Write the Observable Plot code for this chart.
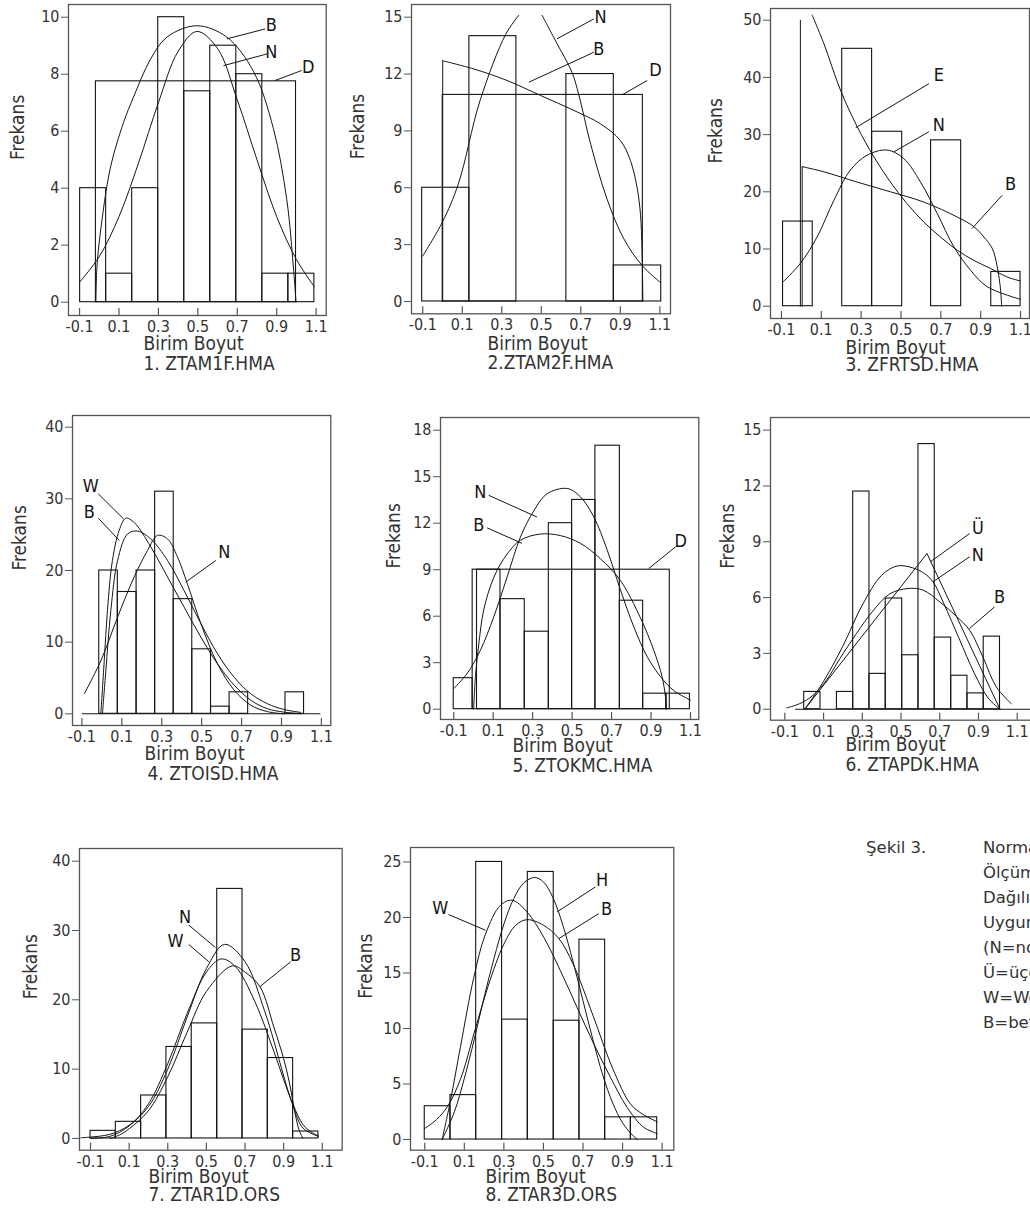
<!DOCTYPE html>
<html><head><meta charset="utf-8">
<script src="https://cdn.jsdelivr.net/npm/d3@7"></script>
<script src="https://cdn.jsdelivr.net/npm/@observablehq/plot@0.6"></script>
<style>
html,body{margin:0;padding:0;background:#fff;overflow:hidden;}
#page{position:relative;width:1030px;height:1209px;overflow:hidden;background:#fff;}
.panel{position:absolute;}
.panel svg{max-width:none !important;overflow:visible;}
.cap{position:absolute;font-family:"DejaVu Sans",sans-serif;font-size:16.5px;color:#333;white-space:nowrap;line-height:25px;}
</style></head><body><div id="page"></div>
<script>
// ---------- shared axis data ----------
const xTicks = [-0.1, 0.1, 0.3, 0.5, 0.7, 0.9, 1.1];
const xTickLabels = ["-0.1", "0.1", "0.3", "0.5", "0.7", "0.9", "1.1"];
const axisLabelX = "Birim Boyut";
const axisLabelY = "Frekans";
const titles = ["1. ZTAM1F.HMA", "2.ZTAM2F.HMA", "3. ZFRTSD.HMA", "4. ZTOISD.HMA", "5. ZTOKMC.HMA", "6. ZTAPDK.HMA", "7. ZTAR1D.ORS", "8. ZTAR3D.ORS"];

// ---------- panel 1 ----------
const p1YTicks = [0, 2, 4, 6, 8, 10];
const p1Edges = [-0.097, 0.035, 0.167, 0.299, 0.431, 0.563, 0.695, 0.827, 0.959, 1.091];
const p1Counts = [4, 1, 4, 10, 7.4, 9, 8, 1, 1];
const p1D = [-0.017, 0.998, 7.75];
const p1N = [[-0.1,0.7],[0,1.6],[0.1,3.0],[0.2,4.9],[0.3,7.0],[0.4,8.8],[0.495,9.5],[0.6,8.9],[0.7,7.1],[0.8,5.0],[0.9,3.0],[1.0,1.5],[1.09,0.55]];
const p1B = [[-0.017,0],[-0.012,1.2],[0.005,2.4],[0.056,4.7],[0.123,6.3],[0.174,7.2],[0.258,8.5],[0.343,9.3],[0.495,9.7],[0.647,9.3],[0.782,8.1],[0.883,6.1],[0.951,3.6],[0.985,1.2],[0.998,0]];
const p1Labels = ["B", "N", "D"];
const p1LabelX = [0.872, 0.872, 1.06];
const p1LabelY = [9.73, 8.77, 8.25];
const p1Leaders = [[0.647,9.24,0.842,9.59],[0.630,8.30,0.85,8.71],[0.892,7.78,1.027,8.13]];

// ---------- panel 2 ----------
const p2YTicks = [0, 3, 6, 9, 12, 15];
const p2Edges = [-0.103, 0.136, 0.374, 0.627, 0.867, 1.107];
const p2Counts = [6, 14, 0, 12, 1.9];
const p2D = [0.001, 1.014, 10.9];
const p2NLeft = [[-0.1,2.4],[0,4.2],[0.08,6.2],[0.19,10.6],[0.32,14.1],[0.386,15.1]];
const p2NRight = [[0.504,15.1],[0.58,13.6],[0.655,12.1],[0.69,10.9],[0.75,8.3],[0.833,5.4],[0.918,3.3],[1.01,1.9],[1.103,1.0]];
const p2BRise = [[0.001,0],[0.001,12.7]];
const p2B = [[0.001,12.7],[0.158,12.27],[0.327,11.66],[0.496,10.87],[0.665,10.08],[0.8,9.37],[0.9,8.5],[0.951,7.44],[0.985,6.0],[1.002,4.6],[1.01,2.7],[1.014,0]];
const p2Labels = ["N", "B", "D"];
const p2LabelX = [0.8, 0.791, 1.078];
const p2LabelY = [15.0, 13.33, 12.19];
const p2Leaders = [[0.58,13.86,0.766,14.91],[0.437,11.57,0.766,13.15],[0.909,10.9,1.036,11.66]];

// ---------- panel 3 ----------
const p3YTicks = [0, 10, 20, 30, 40, 50];
const p3Edges = [-0.092, 0.057, 0.205, 0.355, 0.506, 0.651, 0.802, 0.953, 1.1];
const p3Counts = [14.8, 0, 45, 30.5, 0, 29, 0, 6];
const p3N = [[-0.092,4.25],[-0.005,7.5],[0.079,12.1],[0.163,18.5],[0.246,23.8],[0.33,26.4],[0.43,27.3],[0.514,25.8],[0.598,21.7],[0.682,16.2],[0.765,10.4],[0.849,6.3],[0.933,3.4],[1.1,1.2]];
const p3ESpike = [[-0.005,0],[-0.005,50]];
const p3E = [[0.054,50.9],[0.113,45.9],[0.196,37.8],[0.28,31.4],[0.364,26.1],[0.447,21.7],[0.531,17.9],[0.615,14.7],[0.698,12.1],[0.782,9.8],[0.866,8.0],[0.95,6.6],[1.033,5.1],[1.1,4.4]];
const p3BRise = [[0.004,0],[0.004,24.4]];
const p3B = [[0.004,24.4],[0.113,23.5],[0.28,21.7],[0.447,20.0],[0.615,18.2],[0.782,15.6],[0.866,13.9],[0.916,12.1],[0.958,10.1],[0.983,6.9],[1.0,2.8],[1.005,0]];
const p3Labels = ["E", "N", "B"];
const p3LabelX = [0.69, 0.69, 1.05];
const p3LabelY = [40.4, 31.6, 21.4];
const p3Leaders = [[0.272,31.2,0.64,38.9],[0.464,26.98,0.64,30.5],[0.857,13.6,1.008,19.4]];

// ---------- panel 4 ----------
const p4YTicks = [0, 10, 20, 30, 40];
const p4Edges = [-0.013, 0.080, 0.174, 0.267, 0.360, 0.453, 0.547, 0.640, 0.733, 0.827, 0.920, 1.013];
const p4Counts = [20, 17, 20, 31, 16, 9, 1, 3, 0, 0, 3];
const p4Base = [-0.097, 1.097];
const p4W = [[-0.005,0],[0.012,7.4],[0.028,14.4],[0.053,21.4],[0.087,25.6],[0.12,27.3],[0.162,26.7],[0.245,23.3],[0.329,19.1],[0.412,14.9],[0.496,10.7],[0.579,7.0],[0.663,4.0],[0.746,1.9],[0.83,0.7],[0.913,0.23],[0.996,0]];
const p4B = [[0.003,0],[0.02,6.0],[0.045,14.4],[0.079,21.4],[0.129,25.1],[0.179,25.5],[0.245,24.4],[0.329,21.4],[0.412,17.2],[0.496,12.6],[0.579,8.4],[0.663,5.1],[0.746,2.8],[0.83,1.4],[0.913,0.6],[0.996,0.2]];
const p4N = [[-0.088,2.8],[-0.005,7.4],[0.079,13.5],[0.162,19.1],[0.229,22.8],[0.279,24.9],[0.329,24.4],[0.379,21.9],[0.429,18.1],[0.496,12.6],[0.579,7.0],[0.663,3.3],[0.746,1.2],[0.83,0.3],[0.913,0]];
const p4Labels = ["W", "B", "N"];
const p4LabelX = [-0.055, -0.063, 0.613];
const p4LabelY = [31.7, 28.1, 22.6];
const p4Leaders = [[-0.018,30.7,0.109,27.2],[-0.018,27.3,0.087,24.2],[0.571,21.4,0.421,18.4]];

// ---------- panel 5 ----------
const p5YTicks = [0, 3, 6, 9, 12, 15, 18];
const p5Left = [-0.1, 0.018, 0.137, 0.26, 0.382, 0.5, 0.618, 0.742, 0.86, 0.978];
const p5Right = [-0.004, 0.137, 0.26, 0.382, 0.5, 0.618, 0.742, 0.86, 0.978, 1.097];
const p5Counts = [2, 9, 7.1, 5, 12, 13.5, 17, 7, 1, 1];
const p5D = [-0.004, 0.995, 9];
const p5N = [[-0.1,1.33],[-0.032,2.3],[0.035,3.8],[0.103,5.96],[0.17,8.5],[0.238,11.1],[0.306,12.8],[0.373,13.9],[0.475,14.24],[0.542,13.7],[0.61,12.4],[0.677,10.3],[0.745,7.7],[0.813,5.3],[0.88,3.4],[0.948,2.1],[1.015,1.2],[1.1,0.58]];
const p5B = [[0.001,0],[0.01,2.1],[0.027,4.2],[0.052,6.4],[0.103,8.5],[0.17,10.0],[0.238,10.9],[0.339,11.3],[0.441,11.2],[0.542,10.7],[0.644,9.7],[0.745,8.3],[0.846,5.9],[0.914,3.8],[0.956,2.1],[0.973,0.8],[0.978,0]];
const p5Labels = ["N", "B", "D"];
const p5LabelX = [0.035, 0.027, 1.05];
const p5LabelY = [14.0, 11.87, 10.84];
const p5Leaders = [[0.077,13.8,0.322,12.4],[0.069,11.7,0.246,10.7],[1.024,10.47,0.889,9.08]];

// ---------- panel 6 ----------
const p6YTicks = [0, 3, 6, 9, 12, 15];
const p6Edges = [0.0, 0.084, 0.169, 0.253, 0.337, 0.421, 0.506, 0.59, 0.674, 0.759, 0.843, 0.927, 1.011];
const p6Counts = [0.93, 0, 0.93, 11.7, 1.9, 5.95, 2.9, 14.25, 3.85, 1.8, 0.85, 3.9];
const p6Base = [-0.045, 1.25];
const p6U = [[0.003,0],[0.634,8.37],[1.011,0]];
const p6N = [[0.003,0],[0.1,1.5],[0.2,3.4],[0.3,5.6],[0.4,7.2],[0.48,7.7],[0.56,7.6],[0.62,7.3],[0.665,6.85],[0.72,5.7],[0.8,3.8],[0.88,1.9],[0.95,0.6],[1.011,0]];
const p6B = [[-0.091,0.07],[-0.023,0.3],[0.046,0.75],[0.115,1.56],[0.184,2.72],[0.27,4.07],[0.356,5.3],[0.442,6.2],[0.536,6.49],[0.614,6.4],[0.7,5.77],[0.785,5.0],[0.854,4.25],[0.923,2.8],[0.992,1.2],[1.069,0.3]];
const p6Labels = ["Ü", "N", "B"];
const p6LabelX = [0.897, 0.897, 1.009];
const p6LabelY = [9.71, 8.28, 6.04];
const p6Leaders = [[0.651,7.92,0.854,9.44],[0.665,6.85,0.854,8.19],[0.854,4.34,0.983,5.5]];

// ---------- panel 7 ----------
const p7YTicks = [0, 10, 20, 30, 40];
const p7Edges = [-0.1, 0.031, 0.162, 0.293, 0.424, 0.556, 0.687, 0.818, 0.949, 1.08];
const p7Counts = [1.1, 2.4, 6.2, 13.2, 16.6, 36, 15.7, 11.6, 1.0];
const p7N = [[-0.15,0.1],[-0.1,0.2],[0,0.6],[0.1,1.9],[0.2,4.6],[0.3,10.0],[0.4,17.5],[0.5,24.5],[0.594,28.0],[0.7,25.5],[0.8,18.5],[0.85,14.0],[0.9,9.0],[0.95,4.6],[1.0,1.5],[1.08,0.3]];
const p7W = [[-0.1,0],[0,0.3],[0.1,1.8],[0.2,5.0],[0.3,10.8],[0.4,18.0],[0.5,24.0],[0.577,25.9],[0.65,24.8],[0.75,19.8],[0.85,12.5],[0.9,8.5],[0.95,4.8],[1.0,2.0],[1.05,0.8],[1.08,0.4]];
const p7B = [[0,0],[0.05,0.5],[0.1,1.4],[0.2,4.0],[0.3,8.9],[0.4,15.3],[0.5,21.2],[0.634,24.9],[0.7,24.0],[0.777,21.9],[0.85,16.0],[0.9,11.5],[0.93,8.0],[0.96,3.5],[0.98,1.2],[1.0,0]];
const p7Labels = ["N", "W", "B"];
const p7LabelX = [0.389, 0.34, 0.962];
const p7LabelY = [31.97, 28.4, 26.4];
const p7Leaders = [[0.409,30.77,0.547,27.55],[0.409,27.98,0.513,25.48],[0.936,25.48,0.777,21.9]];

// ---------- panel 8 ----------
const p8YTicks = [0, 5, 10, 15, 20, 25];
const p8Edges = [-0.1, 0.03, 0.16, 0.291, 0.421, 0.552, 0.682, 0.812, 0.942, 1.075];
const p8Counts = [3, 4, 25, 10.8, 24.1, 10.7, 18, 2, 2];
const p8W = [[-0.012,0],[0.03,3.5],[0.08,8.3],[0.148,14.6],[0.207,18.5],[0.283,21.1],[0.342,21.55],[0.417,20.5],[0.502,18.2],[0.586,15.2],[0.67,11.9],[0.755,8.6],[0.839,5.6],[0.923,2.9],[1.007,1.1],[1.075,0.54]];
const p8H = [[-0.012,0],[0.05,2.5],[0.1,5.5],[0.15,9.0],[0.2,12.8],[0.25,16.3],[0.3,19.4],[0.35,21.7],[0.4,23.1],[0.455,23.6],[0.5,23.2],[0.55,21.7],[0.6,19.2],[0.65,16.0],[0.7,12.5],[0.75,9.0],[0.8,5.8],[0.85,3.3],[0.9,1.5],[0.95,0.4],[0.974,0]];
const p8B = [[-0.1,1.0],[-0.04,1.8],[0.016,3.0],[0.08,5.4],[0.15,9.6],[0.22,13.8],[0.3,17.6],[0.36,19.3],[0.417,19.8],[0.5,19.3],[0.578,18.1],[0.65,15.8],[0.75,11.2],[0.85,6.4],[0.94,3.2],[1.0,2.3],[1.075,1.6]];
const p8Labels = ["W", "H", "B"];
const p8LabelX = [-0.021, 0.797, 0.819];
const p8LabelY = [20.8, 23.35, 20.7];
const p8Leaders = [[0.021,20.26,0.207,18.85],[0.763,22.75,0.569,20.5],[0.78,20.35,0.578,18.1]];

// ---------- caption ----------
const captionHead = "Şekil 3.";
const captionLines = ["Normal Olmayan", "Ölçümlerin", "Dağılımlarına", "Uygunluk Testleri", "(N=normal, D=düzgün,", "Ü=üçgen, E=üstel,", "W=Weibull, H=hiperbolik,", "B=beta)"];

// ---------- drawing ----------
const ink = "#141414";
const gray = "#555";
const txt = "#333";
const font = '"DejaVu Sans Condensed", "DejaVu Sans", sans-serif';
const xLabelMap = new Map(xTicks.map((t, i) => [t, xTickLabels[i]]));
const page = document.getElementById("page");

function edgesTo(edges) { return [edges.slice(0, -1), edges.slice(1)]; }

function drawPanel(c) {
  const mL = 72, mR = 12, mT = 10, mB = 72;
  const iw = c.R - c.L, ih = c.B - c.T;
  const bars = c.counts.map((v, i) => ({x1: c.x1[i], x2: c.x2[i], y1: 0, y2: v}));
  const curveRows = [];
  c.curves.forEach(([name, pts]) => pts.forEach(([x, y]) => curveRows.push({x, y, k: name})));
  const linRows = [];
  (c.linear || []).forEach(([name, pts]) => pts.forEach(([x, y]) => linRows.push({x, y, k: name})));
  const labelRows = c.labels.map((t, i) => ({t, x: c.labelX[i], y: c.labelY[i]}));
  const leadRows = c.leaders.map(([x1, y1, x2, y2]) => ({x1, y1, x2, y2}));
  const marks = [
    Plot.frame({stroke: gray, strokeWidth: 1.3}),
    Plot.axisY(c.yTicks, {tickSize: 7, tickPadding: 2, fontSize: 16, fill: txt, stroke: gray, label: null}),
    Plot.axisX(xTicks, {tickSize: 0, tickPadding: 5, fontSize: 16, fill: txt, label: null, tickFormat: d => xLabelMap.get(d)}),
    Plot.tickX(xTicks, {x: d => d, insetTop: ih - 7, stroke: gray, strokeWidth: 1.2})
  ];
  if (c.base) marks.push(Plot.ruleY([{y: 0, x1: c.base[0], x2: c.base[1]}], {y: "y", x1: "x1", x2: "x2", stroke: ink, strokeWidth: 1.1}));
  marks.push(Plot.rect(bars, {x1: "x1", x2: "x2", y1: "y1", y2: "y2", fill: "none", stroke: ink, strokeWidth: 1.1}));
  if (c.D) marks.push(Plot.rect([{x1: c.D[0], x2: c.D[1], y1: 0, y2: c.D[2]}], {x1: "x1", x2: "x2", y1: "y1", y2: "y2", fill: "none", stroke: ink, strokeWidth: 1.1}));
  marks.push(Plot.line(curveRows, {x: "x", y: "y", z: "k", curve: "catmull-rom", stroke: ink, strokeWidth: 1, clip: true}));
  if (linRows.length) marks.push(Plot.line(linRows, {x: "x", y: "y", z: "k", curve: "linear", stroke: ink, strokeWidth: 1, clip: true}));
  marks.push(Plot.link(leadRows, {x1: "x1", y1: "y1", x2: "x2", y2: "y2", stroke: ink, strokeWidth: 1}));
  marks.push(Plot.text(labelRows, {x: "x", y: "y", text: "t", fontSize: 18, fill: ink}));
  marks.push(Plot.text([axisLabelY], {frameAnchor: "left", dx: c.fdx, rotate: -90, fontSize: 19, fill: txt}));
  marks.push(Plot.text([axisLabelX], {frameAnchor: "bottom-left", dx: c.bdx, dy: c.bdy, textAnchor: "start", lineAnchor: "middle", fontSize: 19, fill: txt}));
  marks.push(Plot.text([c.title], {frameAnchor: "bottom-left", dx: c.tdx, dy: c.tdy, textAnchor: "start", lineAnchor: "middle", fontSize: 19, fill: txt}));
  const svg = Plot.plot({
    width: mL + iw + mR, height: mT + ih + mB,
    marginLeft: mL, marginRight: mR, marginTop: mT, marginBottom: mB,
    x: {domain: c.xd}, y: {domain: c.yd},
    style: {background: "none", fontFamily: font, overflow: "visible", maxWidth: "none"},
    marks
  });
  const div = document.createElement("div");
  div.className = "panel";
  div.style.left = (c.L - mL) + "px";
  div.style.top = (c.T - mT) + "px";
  div.appendChild(svg);
  page.appendChild(div);
}

const [p1x1, p1x2] = edgesTo(p1Edges);
drawPanel({L: 68.3, T: 4, R: 326, B: 315, xd: [-0.156, 1.151], yd: [-0.467, 10.446], yTicks: p1YTicks,
  x1: p1x1, x2: p1x2, counts: p1Counts, D: p1D, curves: [["N", p1N], ["B", p1B]],
  labels: p1Labels, labelX: p1LabelX, labelY: p1LabelY, leaders: p1Leaders,
  fdx: -51, bdx: 75, bdy: 28, tdx: 75, tdy: 48, title: titles[0]});

const [p2x1, p2x2] = edgesTo(p2Edges);
drawPanel({L: 411, T: 4, R: 670, B: 313.3, xd: [-0.157, 1.154], yd: [-0.65, 15.67], yTicks: p2YTicks,
  x1: p2x1, x2: p2x2, counts: p2Counts, D: p2D, curves: [["NL", p2NLeft], ["NR", p2NRight], ["B", p2B]], linear: [["BR", p2BRise]],
  labels: p2Labels, labelX: p2LabelX, labelY: p2LabelY, leaders: p2Leaders,
  fdx: -54, bdx: 76, bdy: 30, tdx: 76, tdy: 49, title: titles[1]});

const [p3x1, p3x2] = edgesTo(p3Edges);
drawPanel({L: 770, T: 8.3, R: 1029, B: 318.3, xd: [-0.155, 1.145], yd: [-2.15, 52.05], yTicks: p3YTicks,
  x1: p3x1, x2: p3x2, counts: p3Counts, curves: [["N", p3N], ["E", p3E], ["B", p3B]], linear: [["ES", p3ESpike], ["BR", p3BRise]],
  labels: p3Labels, labelX: p3LabelX, labelY: p3LabelY, leaders: p3Leaders,
  fdx: -55, bdx: 75, bdy: 29, tdx: 75, tdy: 46, title: titles[2]});

const [p4x1, p4x2] = edgesTo(p4Edges);
drawPanel({L: 71.7, T: 415, R: 330, B: 725, xd: [-0.147, 1.147], yd: [-1.63, 41.63], yTicks: p4YTicks,
  x1: p4x1, x2: p4x2, counts: p4Counts, base: p4Base, curves: [["W", p4W], ["B", p4B], ["N", p4N]],
  labels: p4Labels, labelX: p4LabelX, labelY: p4LabelY, leaders: p4Leaders,
  fdx: -53, bdx: 72, bdy: 28, tdx: 75, tdy: 48, title: titles[3]});

drawPanel({L: 440, T: 417.3, R: 698.3, B: 719.3, xd: [-0.167, 1.142], yd: [-0.665, 18.82], yTicks: p5YTicks,
  x1: p5Left, x2: p5Right, counts: p5Counts, D: p5D, curves: [["N", p5N], ["B", p5B]],
  labels: p5Labels, labelX: p5LabelX, labelY: p5LabelY, leaders: p5Leaders,
  fdx: -47, bdx: 72, bdy: 26, tdx: 72, tdy: 46, title: titles[4]});

const [p6x1, p6x2] = edgesTo(p6Edges);
drawPanel({L: 770, T: 417.3, R: 1045, B: 720, xd: [-0.174, 1.246], yd: [-0.59, 15.68], yTicks: p6YTicks,
  x1: p6x1, x2: p6x2, counts: p6Counts, base: p6Base, curves: [["N", p6N], ["B", p6B]], linear: [["U", p6U]],
  labels: p6Labels, labelX: p6LabelX, labelY: p6LabelY, leaders: p6Leaders,
  fdx: -43, bdx: 75, bdy: 25, tdx: 75, tdy: 45, title: titles[5]});

const [p7x1, p7x2] = edgesTo(p7Edges);
drawPanel({L: 79, T: 848.3, R: 341.7, B: 1150, xd: [-0.157, 1.203], yd: [-1.69, 41.83], yTicks: p7YTicks,
  x1: p7x1, x2: p7x2, counts: p7Counts, curves: [["N", p7N], ["W", p7W], ["B", p7B]],
  labels: p7Labels, labelX: p7LabelX, labelY: p7LabelY, leaders: p7Leaders,
  fdx: -49, bdx: 69, bdy: 27, tdx: 69, tdy: 45, title: titles[6]});

const [p8x1, p8x2] = edgesTo(p8Edges);
drawPanel({L: 410, T: 847.3, R: 673.3, B: 1150, xd: [-0.172, 1.159], yd: [-0.96, 26.3], yTicks: p8YTicks,
  x1: p8x1, x2: p8x2, counts: p8Counts, curves: [["W", p8W], ["H", p8H], ["B", p8B]],
  labels: p8Labels, labelX: p8LabelX, labelY: p8LabelY, leaders: p8Leaders,
  fdx: -45, bdx: 75, bdy: 27, tdx: 75, tdy: 45, title: titles[7]});

// caption
const head = document.createElement("div");
head.className = "cap";
head.style.left = "866px"; head.style.top = "835px";
head.textContent = captionHead;
page.appendChild(head);
const body = document.createElement("div");
body.className = "cap";
body.style.left = "983px"; body.style.top = "835px";
captionLines.forEach(s => { const d = document.createElement("div"); d.textContent = s; body.appendChild(d); });
page.appendChild(body);
</script>
</body></html>
